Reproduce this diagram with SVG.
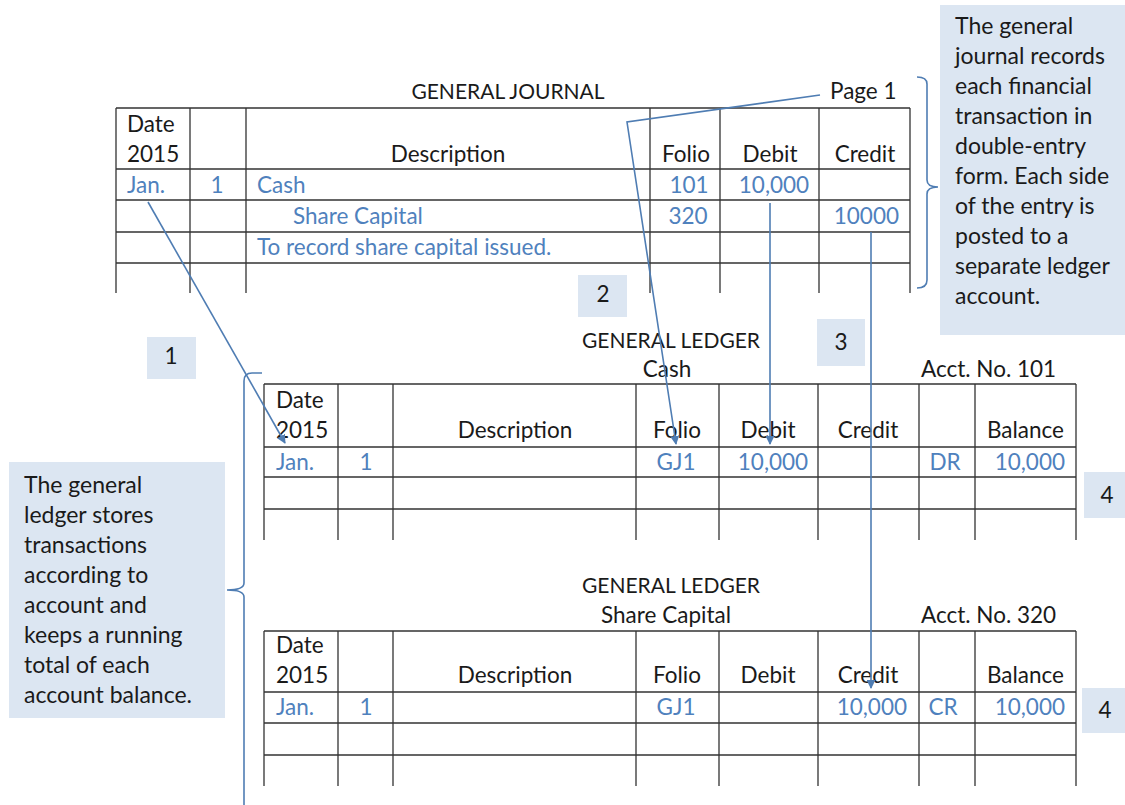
<svg xmlns="http://www.w3.org/2000/svg" width="1125" height="805" viewBox="0 0 1125 805">
  <style>
    text { font-family: Lato, "Open Sans", sans-serif; font-size: 22.5px; fill: #1a1a1a; }
    .title { font-size: 21px; }
    .note-text { font-size: 23px; }
    .blue { fill: #4f81bd; }
    .mid { text-anchor: middle; }
    .end { text-anchor: end; }
    .grid { stroke: #333; stroke-width: 1.3; fill: none; }
    .note { fill: #dce6f2; }
    .link { stroke: #4f7db3; stroke-width: 1.6; fill: none; }
  </style>
  <defs>
    <marker id="arrow" viewBox="0 0 10 10" refX="9" refY="5" markerWidth="9" markerHeight="9" orient="auto" markerUnits="userSpaceOnUse">
      <path d="M0 0 L10 5 L0 10 Z" fill="#4f7db3"/>
    </marker>
  </defs>

  <rect width="1125" height="805" fill="#fff"/>

  <!-- General journal -->
  <g id="general-journal">
    <text class="title mid" x="508" y="99">GENERAL JOURNAL</text>
    <text x="830" y="99">Page 1</text>
    <path class="grid" d="M116 108H910M116 169H910M116 200H910M116 232H910M116 263H910
      M116 108V293M190 108V293M246 108V293M650 108V293M720 108V293M819 108V293M910 108V293"/>
    <text x="127" y="132">Date</text>
    <text x="127" y="162">2015</text>
    <text class="mid" x="448" y="162">Description</text>
    <text class="mid" x="686" y="162">Folio</text>
    <text class="mid" x="770" y="162">Debit</text>
    <text class="mid" x="865" y="162">Credit</text>
    <text class="blue" x="127" y="193">Jan.</text>
    <text class="blue mid" x="217" y="193">1</text>
    <text class="blue" x="257" y="193">Cash</text>
    <text class="blue mid" x="689" y="193">101</text>
    <text class="blue mid" x="774" y="193">10,000</text>
    <text class="blue" x="293" y="224">Share Capital</text>
    <text class="blue mid" x="688" y="224">320</text>
    <text class="blue end" x="899" y="224">10000</text>
    <text class="blue" x="257" y="255">To record share capital issued.</text>
    <!-- brace pointing to the note -->
    <path class="link" d="M917 77Q927 77 927 84V180Q927 187 938 187Q927 187 927 194V280Q927 288 917 288"/>
  </g>

  <!-- Note on the journal -->
  <g id="note-journal">
    <rect class="note" x="940" y="5" width="185" height="330"/>
    <text class="note-text" x="955" y="34">The general</text>
    <text class="note-text" x="955" y="64">journal records</text>
    <text class="note-text" x="955" y="94">each financial</text>
    <text class="note-text" x="955" y="124">transaction in</text>
    <text class="note-text" x="955" y="154">double-entry</text>
    <text class="note-text" x="955" y="184">form. Each side</text>
    <text class="note-text" x="955" y="214">of the entry is</text>
    <text class="note-text" x="955" y="244">posted to a</text>
    <text class="note-text" x="955" y="274">separate ledger</text>
    <text class="note-text" x="955" y="304">account.</text>
  </g>

  <!-- Step labels -->
  <g id="step-1">
    <rect class="note" x="147" y="337" width="49" height="42"/>
    <text class="mid" x="171" y="364">1</text>
  </g>
  <g id="step-2">
    <rect class="note" x="578" y="275" width="49" height="42"/>
    <text class="mid" x="603" y="302">2</text>
  </g>
  <g id="step-3">
    <rect class="note" x="817" y="319" width="48" height="47"/>
    <text class="mid" x="841" y="350">3</text>
  </g>
  <g id="step-4a">
    <rect class="note" x="1084" y="472" width="41" height="46"/>
    <text class="mid" x="1107" y="503">4</text>
  </g>
  <g id="step-4b">
    <rect class="note" x="1082" y="688" width="43" height="45"/>
    <text class="mid" x="1105" y="718">4</text>
  </g>

  <!-- Note on the ledger -->
  <g id="note-ledger">
    <rect class="note" x="9" y="462" width="216" height="256"/>
    <text class="note-text" x="24" y="493">The general</text>
    <text class="note-text" x="24" y="523">ledger stores</text>
    <text class="note-text" x="24" y="553">transactions</text>
    <text class="note-text" x="24" y="583">according to</text>
    <text class="note-text" x="24" y="613">account and</text>
    <text class="note-text" x="24" y="643">keeps a running</text>
    <text class="note-text" x="24" y="673">total of each</text>
    <text class="note-text" x="24" y="703">account balance.</text>
    <path class="link" d="M262 373H252Q244 373 244 381V583Q244 590 227 590Q244 590 244 597V805"/>
  </g>

  <!-- General ledger: Cash -->
  <g id="ledger-cash">
    <text class="title mid" x="671" y="348">GENERAL LEDGER</text>
    <text class="mid" x="667" y="377">Cash</text>
    <text x="921" y="377">Acct. No. 101</text>
    <path class="grid" d="M264 384H1076M264 447H1076M264 477H1076M264 509H1076
      M264 384V540M338 384V540M393 384V540M636 384V540M719 384V540M818 384V540M919 384V540M975 384V540M1076 384V540"/>
    <text x="276" y="408">Date</text>
    <text x="276" y="438">2015</text>
    <text class="mid" x="515" y="438">Description</text>
    <text class="mid" x="677" y="438">Folio</text>
    <text class="mid" x="768" y="438">Debit</text>
    <text class="mid" x="868" y="438">Credit</text>
    <text class="end" x="1064" y="438">Balance</text>
    <text class="blue" x="276" y="470">Jan.</text>
    <text class="blue mid" x="366" y="470">1</text>
    <text class="blue mid" x="676" y="470">GJ1</text>
    <text class="blue mid" x="773" y="470">10,000</text>
    <text class="blue mid" x="945" y="470">DR</text>
    <text class="blue end" x="1065" y="470">10,000</text>
  </g>

  <!-- General ledger: Share Capital -->
  <g id="ledger-share-capital">
    <text class="title mid" x="671" y="593">GENERAL LEDGER</text>
    <text class="mid" x="666" y="623">Share Capital</text>
    <text x="921" y="623">Acct. No. 320</text>
    <path class="grid" d="M264 631H1076M264 692H1076M264 723H1076M264 755H1076
      M264 631V786M338 631V786M393 631V786M636 631V786M719 631V786M818 631V786M919 631V786M975 631V786M1076 631V786"/>
    <text x="276" y="653">Date</text>
    <text x="276" y="683">2015</text>
    <text class="mid" x="515" y="683">Description</text>
    <text class="mid" x="677" y="683">Folio</text>
    <text class="mid" x="768" y="683">Debit</text>
    <text class="mid" x="868" y="683">Credit</text>
    <text class="end" x="1064" y="683">Balance</text>
    <text class="blue" x="276" y="715">Jan.</text>
    <text class="blue mid" x="366" y="715">1</text>
    <text class="blue mid" x="676" y="715">GJ1</text>
    <text class="blue end" x="907" y="715">10,000</text>
    <text class="blue mid" x="943" y="715">CR</text>
    <text class="blue end" x="1065" y="715">10,000</text>
  </g>

  <!-- Posting connectors -->
  <g id="connectors">
    <path class="link" marker-end="url(#arrow)" d="M148 202L285 443"/>
    <path class="link" marker-end="url(#arrow)" d="M820 95L627 122L676 444"/>
    <path class="link" marker-end="url(#arrow)" d="M770 203V444"/>
    <path class="link" marker-end="url(#arrow)" d="M871 232V688"/>
  </g>
</svg>
